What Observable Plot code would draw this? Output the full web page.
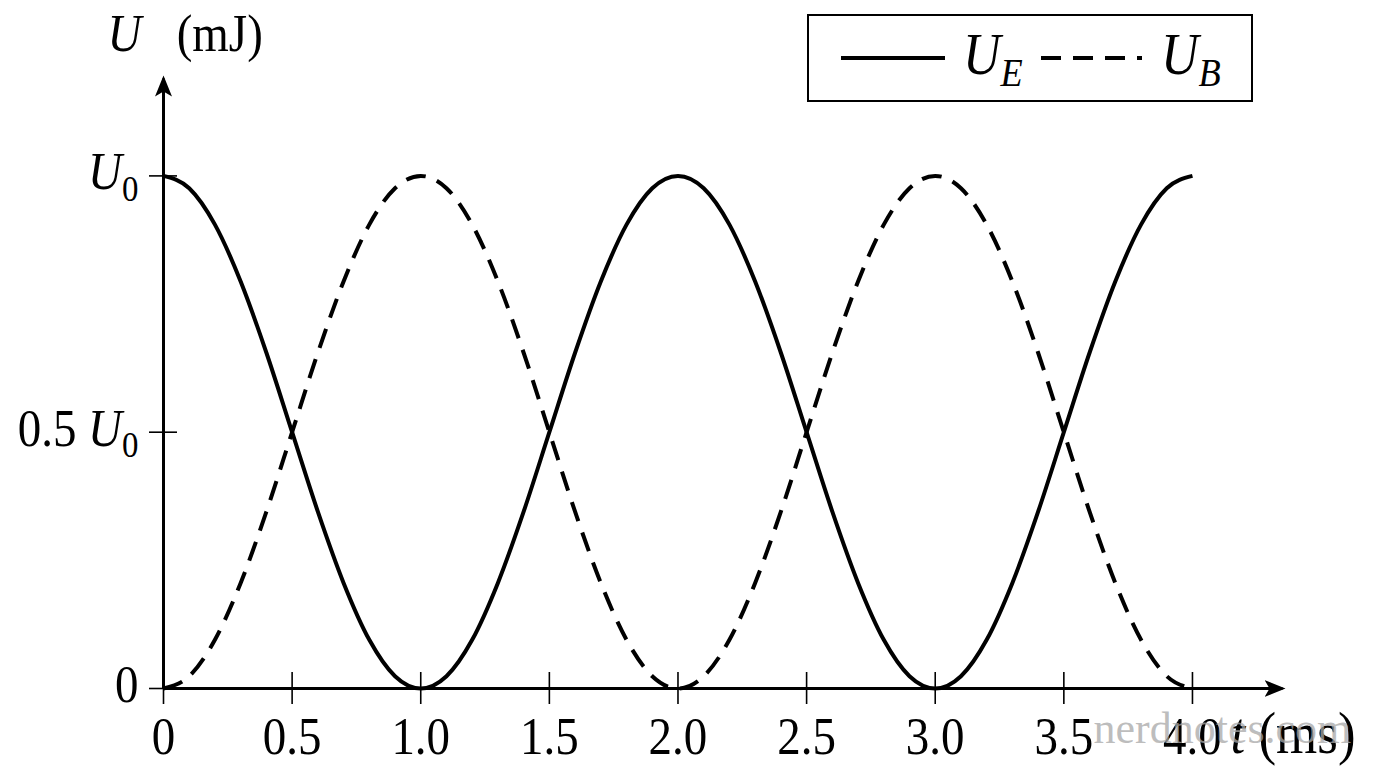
<!DOCTYPE html>
<html>
<head>
<meta charset="utf-8">
<script src="https://cdn.jsdelivr.net/npm/d3@7"></script>
<script src="https://cdn.jsdelivr.net/npm/@observablehq/plot@0.6"></script>
<style>
html, body { margin: 0; padding: 0; background: #fff; }
#wrap { position: relative; width: 1376px; height: 768px; overflow: hidden; font-family: "Liberation Serif", serif; }
#legend { position: absolute; left: 807px; top: 14px; width: 442px; height: 84px; border: 2px solid #000; background: #fff; }
svg text { white-space: pre; }
</style>
</head>
<body>
<div id="wrap"><div id="legend"></div></div>
<script>
// ---- data ----
const tValues = [0.0,0.1,0.2,0.3,0.4,0.5,0.6,0.7,0.8,0.9,1.0,1.1,1.2,1.3,1.4,1.5,1.6,1.7,1.8,1.9,2.0,
                 2.1,2.2,2.3,2.4,2.5,2.6,2.7,2.8,2.9,3.0,3.1,3.2,3.3,3.4,3.5,3.6,3.7,3.8,3.9,4.0];
const energyE = [1.000,0.976,0.905,0.794,0.655,0.500,0.345,0.206,0.095,0.024,0.000,0.024,0.095,0.206,0.345,0.500,0.655,0.794,0.905,0.976,1.000,
                 0.976,0.905,0.794,0.655,0.500,0.345,0.206,0.095,0.024,0.000,0.024,0.095,0.206,0.345,0.500,0.655,0.794,0.905,0.976,1.000];
const energyB = [0.000,0.024,0.095,0.206,0.345,0.500,0.655,0.794,0.905,0.976,1.000,0.976,0.905,0.794,0.655,0.500,0.345,0.206,0.095,0.024,0.000,
                 0.024,0.095,0.206,0.345,0.500,0.655,0.794,0.905,0.976,1.000,0.976,0.905,0.794,0.655,0.500,0.345,0.206,0.095,0.024,0.000];
const seriesNames = ["$U_E$", "$U_B$"];
const seriesDash = [null, "20,12"];
const xTicks = [0, 0.5, 1.0, 1.5, 2.0, 2.5, 3.0, 3.5, 4.0];
const xTickLabels = ["0", "0.5", "1.0", "1.5", "2.0", "2.5", "3.0", "3.5", "4.0"];
const yTicks = [0, 0.5, 1];
const yTickLabels = ["0", "0.5 $U_0$", "$U_0$"];
const xDomain = [0, 4.35];
const yDomain = [0, 1.19];
const yAxisLabel = "$U$~(mJ)";
const xAxisLabel = "$t$ (ms)";
const watermark = "nerdnotes.com";

// ---- build ----
const FONT = "Liberation Serif";
const FS = 47;
const STRETCH = 1.12;
const rows = tValues.map((t, i) => ({t, UE: energyE[i], UB: energyB[i]}));
const axisData = [{x1: xDomain[0], y1: yDomain[0], x2: xDomain[1], y2: yDomain[0]},
                  {x1: xDomain[0], y1: yDomain[0], x2: xDomain[0], y2: yDomain[1]}];

function stealth(color, context) {
  const m = d3.create("svg:marker")
    .attr("viewBox", "-18 -9 22 18")
    .attr("markerWidth", 22).attr("markerHeight", 18)
    .attr("markerUnits", "userSpaceOnUse")
    .attr("orient", "auto");
  m.append("path").attr("d", "M3,0L-18,-8.5L-13,0L-18,8.5Z").attr("fill", color).attr("stroke", "none");
  return m.node();
}

const chart = Plot.plot({
  width: 1376, height: 768,
  marginLeft: 163, marginRight: 94, marginTop: 78, marginBottom: 80,
  x: {domain: xDomain},
  y: {domain: yDomain},
  style: {fontFamily: FONT, fontSize: FS + "px", background: "transparent", color: "#000", overflow: "visible"},
  marks: [
    Plot.ruleX(xTicks, {x: d => d, y1: 0, y2: 0, insetTop: -16, insetBottom: -16, stroke: "#000", strokeWidth: 1.6}),
    Plot.ruleY(yTicks, {y: d => d, x1: 0, x2: 0, insetLeft: -14, insetRight: -14, stroke: "#000", strokeWidth: 1.6}),
    Plot.link(axisData, {x1: "x1", y1: "y1", x2: "x2", y2: "y2", stroke: "#000", strokeWidth: 3, markerEnd: stealth}),
    Plot.line(rows, {x: "t", y: "UB", curve: "monotone-x", stroke: "#000", strokeWidth: 4, strokeDasharray: seriesDash[1], strokeLinecap: "butt"}),
    Plot.line(rows, {x: "t", y: "UE", curve: "monotone-x", stroke: "#000", strokeWidth: 4, strokeLinecap: "butt"}),
    Plot.axisX({ticks: xTicks, tickFormat: d => xTickLabels[xTicks.indexOf(d)], tickSize: 0, tickPadding: 30, label: null, fontSize: FS}),
    Plot.axisY({ticks: yTicks, tickFormat: d => yTickLabels[yTicks.indexOf(d)], tickSize: 0, tickPadding: 25, dy: -3, label: null, fontSize: FS}),
    Plot.text([yAxisLabel], {text: d => d, frameAnchor: "top-left", textAnchor: "start", lineAnchor: "middle", dx: -56, dy: -44, fontSize: FS}),
    Plot.text([xAxisLabel], {text: d => d, frameAnchor: "bottom-right", textAnchor: "start", lineAnchor: "middle", dx: -52, dy: 45, fontSize: 53}),
    Plot.text([watermark], {text: d => d, frameAnchor: "bottom-right", textAnchor: "start", lineAnchor: "middle", dx: -189, dy: 40, fontSize: 44, fill: "#a8a8a8", fillOpacity: 0.75})
  ]
});

const SVGNS = "http://www.w3.org/2000/svg";
function richText(el, src, fontPx) {
  while (el.firstChild) el.removeChild(el.firstChild);
  let math = false, pendingDy = 0, pendingDx = 0, i = 0;
  const shift = Math.round(fontPx * 0.22);
  function add(txt, italic, isSub) {
    const ts = document.createElementNS(SVGNS, "tspan");
    ts.textContent = txt;
    if (italic) ts.setAttribute("font-style", "italic");
    let dy = pendingDy;
    if (isSub) { ts.setAttribute("font-size", (fontPx * 0.7).toFixed(1)); dy += shift; pendingDy = -shift; }
    else pendingDy = 0;
    if (dy) ts.setAttribute("dy", dy);
    if (pendingDx) { ts.setAttribute("dx", pendingDx); pendingDx = 0; }
    el.appendChild(ts);
  }
  while (i < src.length) {
    const c = src[i];
    if (c === "$") { math = !math; i++; continue; }
    if (c === "~") { pendingDx += fontPx * 0.75; i++; continue; }
    if (math && c === "_") { const s = src[i + 1]; add(s, /[A-Za-z]/.test(s), true); i += 2; continue; }
    add(c, math && /[A-Za-z]/.test(c), false);
    i++;
  }
}

function textSize(t) {
  const fs = parseFloat(getComputedStyle(t).fontSize);
  return isFinite(fs) ? fs : FS;
}

document.getElementById("wrap").insertBefore(chart, document.getElementById("legend"));
chart.style.position = "absolute";
chart.style.left = "0px";
chart.style.top = "0px";

chart.querySelectorAll("text").forEach(t => {
  const s = t.textContent;
  if (s.includes("$")) richText(t, s, textSize(t));
});

// stretch glyphs vertically about their own centre (the reference's type is taller than it is wide)
function stretch(t) {
  const b = t.getBBox();
  const cy = b.y + b.height / 2;
  const prev = t.getAttribute("transform") || "";
  t.setAttribute("transform", `${prev} translate(0,${cy}) scale(1,${STRETCH}) translate(0,${-cy})`.trim());
}
chart.querySelectorAll("text").forEach(t => {
  if (t.textContent !== watermark) stretch(t);
});

// legend
const lg = d3.select("#legend").append("svg").attr("width", 442).attr("height", 84)
  .style("font-family", FONT).style("font-size", "52px");
const entryX = [[32, 136, 154], [232, 333, 352]];
seriesNames.forEach((name, k) => {
  const [a, b, tx] = entryX[k];
  lg.append("line").attr("x1", a).attr("x2", b).attr("y1", 42).attr("y2", 42)
    .attr("stroke", "#000").attr("stroke-width", 4).attr("stroke-dasharray", seriesDash[k]);
  const t = lg.append("text").attr("x", tx).attr("y", 56).node();
  richText(t, name, 52);
  stretch(t);
});
</script>
</body>
</html>
